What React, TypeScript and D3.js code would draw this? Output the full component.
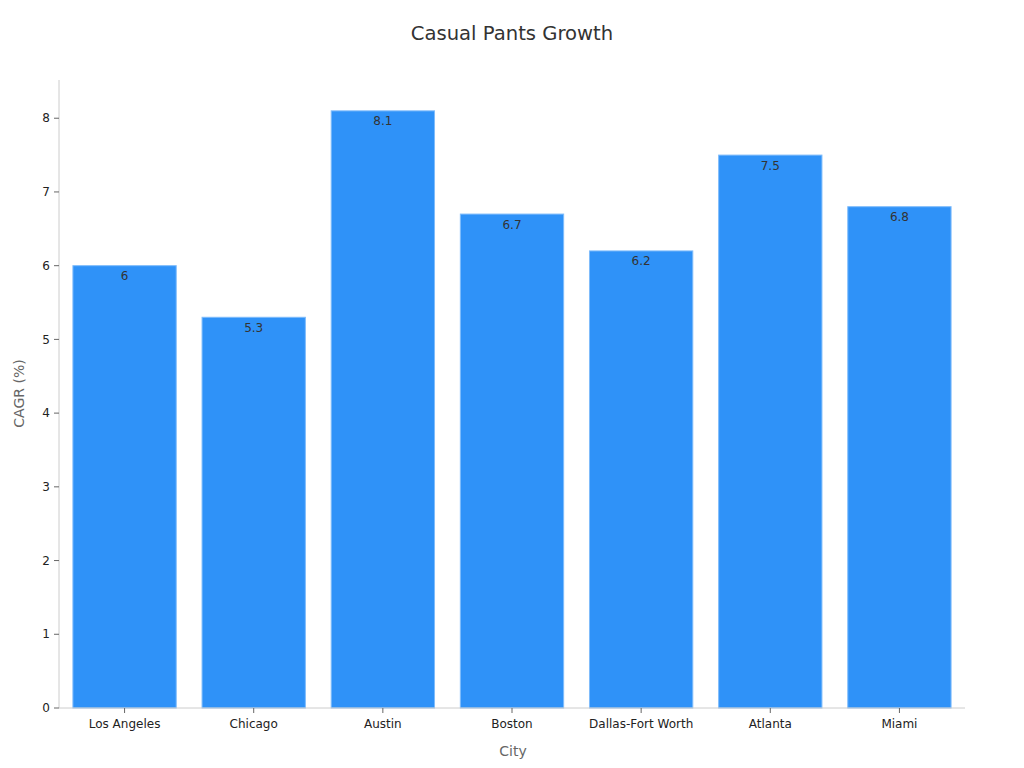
import React from "react";
import * as d3 from "d3";

const categories = ["Los Angeles", "Chicago", "Austin", "Boston", "Dallas-Fort Worth", "Atlanta", "Miami"];
const values = [6, 5.3, 8.1, 6.7, 6.2, 7.5, 6.8];
const yTicks = [0, 1, 2, 3, 4, 5, 6, 7, 8];

const W = 1024, H = 768;
const m = { left: 59, right: 61, top: 81, bottom: 60 };
const FONT = "'DejaVu Sans', sans-serif";

export default function App() {
  const x = d3.scaleBand<string>().domain(categories).range([m.left + 1, W - m.right + 1]).paddingInner(0.2).paddingOuter(0.1);
  const y = d3.scaleLinear().domain([0, 8.505]).range([H - m.bottom, m.top]);
  const y0 = y(0);
  return (
    <svg width={W} height={H} style={{ position: "absolute", left: 0, top: 0, background: "#fff" }} fontFamily={FONT}>
      <text x={W / 2} y={40} textAnchor="middle" fontSize={19.6} fill="#333">Casual Pants Growth</text>
      {categories.map((c, i) => (
        <g key={c}>
          <rect x={x(c)} y={y(values[i])} width={x.bandwidth()} height={y0 - y(values[i])} fill="#2f92f8" stroke="#7fbcfb" strokeWidth={1} />
          <text x={(x(c) as number) + x.bandwidth() / 2} y={y(values[i]) + 14.5} textAnchor="middle" fontSize={12} fill="#333">{values[i]}</text>
        </g>
      ))}
      <line x1={m.left} x2={m.left} y1={m.top - 1} y2={y0} stroke="#ccc" />
      <line x1={m.left} x2={W - m.right + 2} y1={y0} y2={y0} stroke="#ccc" />
      {yTicks.map((t) => (
        <g key={t}>
          <line x1={m.left - 5} x2={m.left} y1={y(t)} y2={y(t)} stroke="#666" />
          <text x={m.left - 9} y={y(t)} dy="0.35em" textAnchor="end" fontSize={12} fill="#222">{t}</text>
        </g>
      ))}
      {categories.map((c) => {
        const cx = (x(c) as number) + x.bandwidth() / 2;
        return (
          <g key={c}>
            <line x1={cx} x2={cx} y1={y0} y2={y0 + 5} stroke="#666" />
            <text x={cx} y={y0 + 20} textAnchor="middle" fontSize={12} fill="#222">{c}</text>
          </g>
        );
      })}
      <text x={W / 2 + 1} y={756} textAnchor="middle" fontSize={14} fill="#666">City</text>
      <text transform={`translate(24, ${(m.top + y0) / 2 - 1}) rotate(-90)`} textAnchor="middle" fontSize={14} fill="#666">CAGR (%)</text>
    </svg>
  );
}
